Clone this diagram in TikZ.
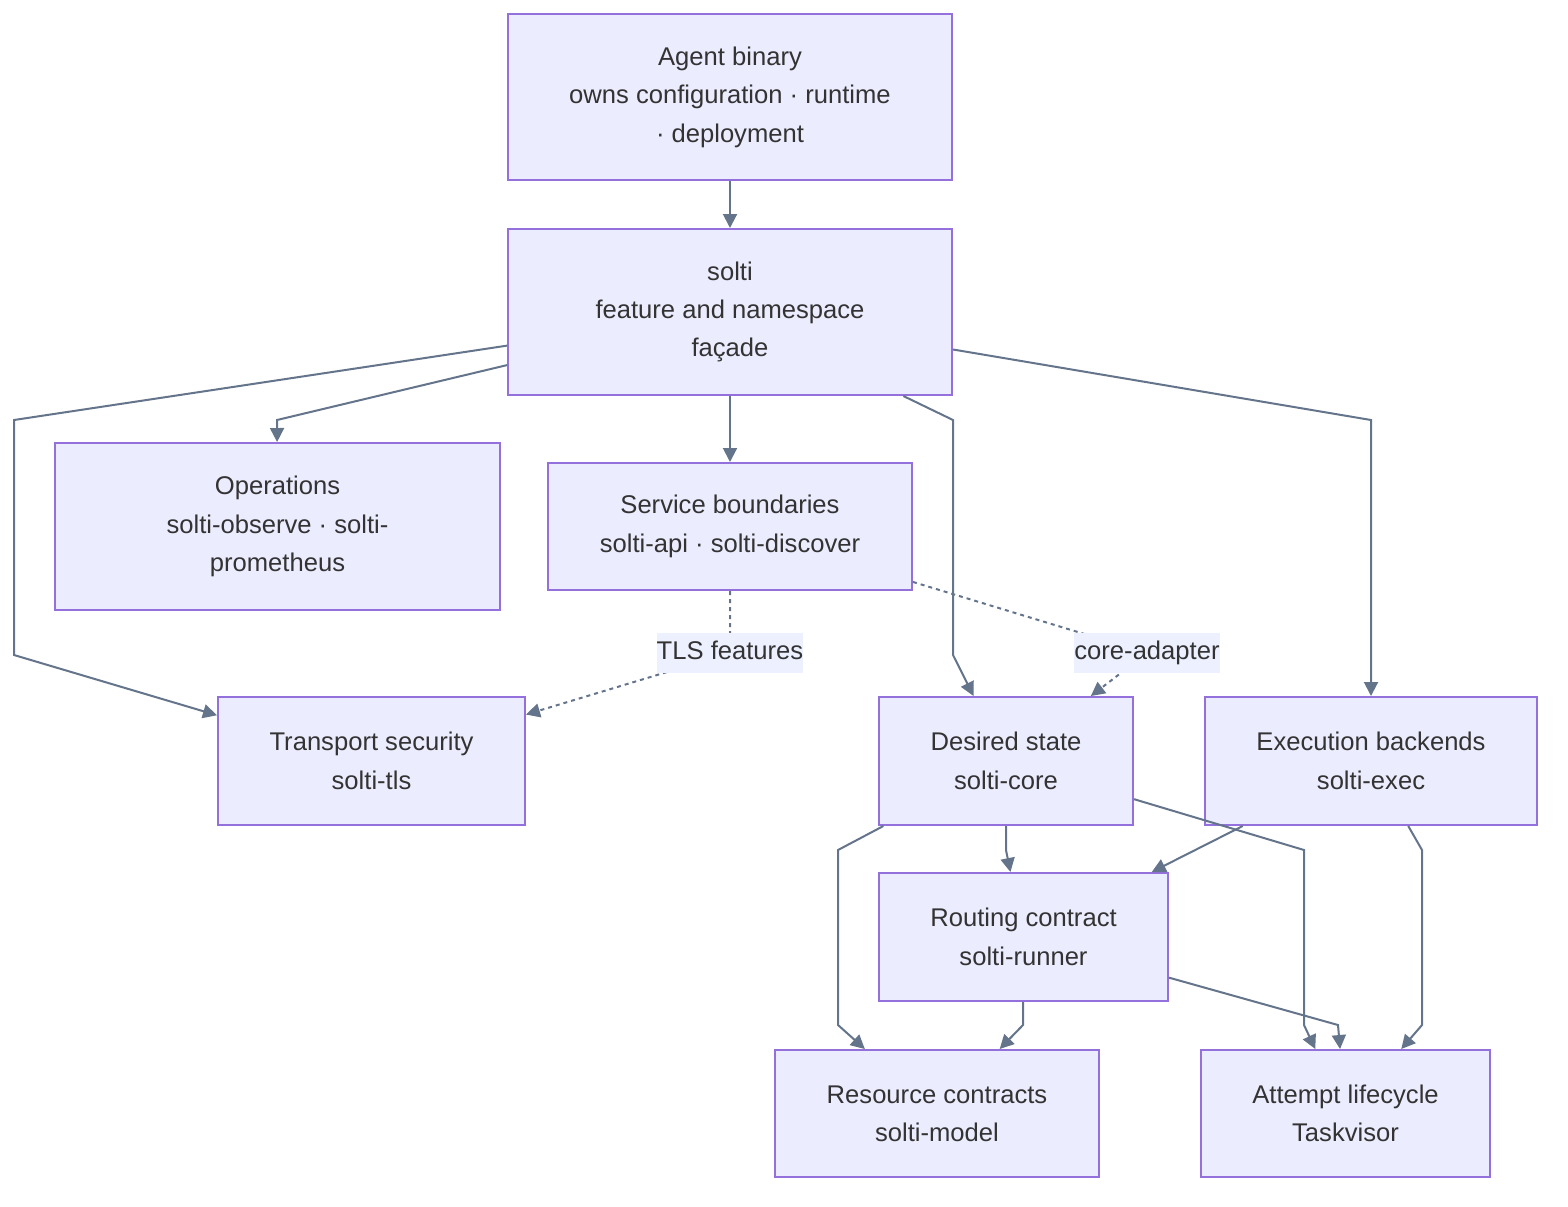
\documentclass[tikz,border=0pt]{standalone}
\usepackage{fontspec}
\setmainfont{Liberation Sans}
\usetikzlibrary{arrows.meta}

\definecolor{boxfill}{HTML}{ECECFF}
\definecolor{boxline}{HTML}{9370DB}
\definecolor{edgeline}{HTML}{64748B}
\definecolor{lblfill}{HTML}{EDF0FF}
\definecolor{txt}{HTML}{333333}

\begin{document}
\begin{tikzpicture}[x=0.5pt, y=-0.5pt,
  box/.style={draw=boxline, fill=boxfill, line width=1pt, inner sep=0pt, align=center,
    text=txt, font=\fontsize{12.8}{19.2}\selectfont},
  edge/.style={draw=edgeline, line width=1pt, -{Triangle[length=7pt,width=7pt]}},
  dep/.style={edge, dash pattern=on 2pt off 2pt},
  lbl/.style={fill=lblfill, inner xsep=0pt, inner ysep=0pt, minimum height=20pt,
    text height=9.4pt, text depth=2.6pt,
    text=txt, font=\fontsize{12.8}{19.2}\selectfont}]

% Mermaid-like layering, pixel coordinates of the 1568x1206 frame
  \useasboundingbox (0,0) rectangle (1568,1206);

  \node[box, minimum width=222pt, minimum height=83pt] (agent) at (730,97) {Agent binary\\owns configuration · runtime\\· deployment};
  \node[box, minimum width=222pt, minimum height=83pt] (solti) at (730,312) {solti\\feature and namespace\\façade};
  \node[box, minimum width=222.5pt, minimum height=83.5pt] (ops) at (277.5,526.5) {Operations\\solti-observe · solti-\\prometheus};
  \node[box, minimum width=182pt, minimum height=63.5pt] (svc) at (730,526.5) {Service boundaries\\solti-api · solti-discover};
  \node[box, minimum width=153.5pt, minimum height=64pt] (trans) at (371.5,761) {Transport security\\solti-tls};
  \node[box, minimum width=127pt, minimum height=64pt] (des) at (1006,761) {Desired state\\solti-core};
  \node[box, minimum width=166pt, minimum height=64pt] (exec) at (1371,761) {Execution backends\\solti-exec};
  \node[box, minimum width=144.5pt, minimum height=64pt] (route) at (1023.5,937) {Routing contract\\solti-runner};
  \node[box, minimum width=162pt, minimum height=63.5pt] (res) at (937,1113.5) {Resource contracts\\solti-model};
  \node[box, minimum width=144.5pt, minimum height=63.5pt] (att) at (1345.5,1113.5) {Attempt lifecycle\\Taskvisor};

  \draw[edge] (agent) -- (solti);
  \draw[edge] (solti) -- (14,420) -- (14,655) -- (trans);
  \draw[edge] (solti) -- (277,420) -- (ops);
  \draw[edge] (solti) -- (svc);
  \draw[edge] (solti) -- (953,420) -- (953,655) -- (des);
  \draw[edge] (solti) -- (1371,420) -- (exec);
  \draw[dep] (svc) -- (730,653) node[lbl] {TLS features} -- (trans);
  \draw[dep] (svc) -- (1147,653) node[lbl] {core-adapter} -- (des);
  \draw[edge] (des) -- (1006,850) -- (route);
  \draw[edge] (des) -- (838,850) -- (838,1025) -- (res);
  \draw[edge] (des) -- (1304,850) -- (1304,1025) -- (att);
  \draw[edge] (exec) -- (route);
  \draw[edge] (exec) -- (1422,850) -- (1422,1025) -- (att);
  \draw[edge] (route) -- (1023,1025) -- (res);
  \draw[edge] (route) -- (1338,1025) -- (att);
\end{tikzpicture}
\end{document}
